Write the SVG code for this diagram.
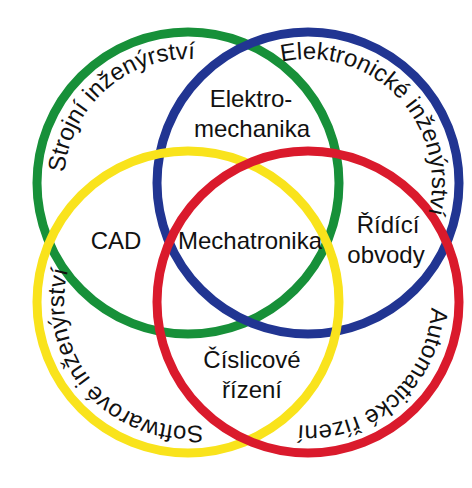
<svg xmlns="http://www.w3.org/2000/svg" width="472" height="488" viewBox="0 0 472 488">
<style>
.ring{fill:none;stroke-width:9}
.lbl{font-family:"Liberation Sans",Arial,sans-serif;font-size:24px;fill:#111;text-anchor:middle}
</style>
<defs>
<path id="pg" d="M269.36,276.58 A124,124 0 0 1 106.64,89.42 A124,124 0 0 1 269.36,276.58"/>
<path id="pb" d="M218.8,269.14 A124,124 0 0 1 397.2,96.86 A124,124 0 0 1 218.8,269.14"/>
<path id="py" d="M281.58,220.64 A124,124 0 0 1 94.42,383.36 A124,124 0 0 1 281.58,220.64"/>
<path id="pr" d="M226.11,208.89 A124,124 0 0 1 389.89,395.11 A124,124 0 0 1 226.11,208.89"/>
</defs>
<rect width="472" height="488" fill="#fff"/>
<g id="rings">
<circle id="green" class="ring" cx="188" cy="183" r="151" stroke="#179039"/>
<circle id="blue" class="ring" cx="308" cy="183" r="151" stroke="#213592"/>
<circle id="yellow" class="ring" cx="188" cy="302" r="151" stroke="#f9e31c"/>
<circle id="red" class="ring" cx="308" cy="302" r="151" stroke="#da1a2c"/>
</g>
<g id="ring-labels">
<text class="lbl"><textPath href="#pg" startOffset="50%">Strojní inženýrství</textPath></text>
<text class="lbl"><textPath href="#pb" startOffset="50%">Elektronické inženýrství</textPath></text>
<text class="lbl"><textPath href="#py" startOffset="50%">Softwarové inženýrství</textPath></text>
<text class="lbl"><textPath href="#pr" startOffset="50%">Automatické řízení</textPath></text>
</g>
<g id="elektromechanika"><text class="lbl" x="251" y="107">Elektro-</text><text class="lbl" x="252" y="137">mechanika</text></g>
<g id="cad"><text class="lbl" x="116" y="249">CAD</text></g>
<g id="mechatronika"><text class="lbl" x="250" y="249">Mechatronika</text></g>
<g id="ridici-obvody"><text class="lbl" x="388" y="233">Řídící</text><text class="lbl" x="386" y="263">obvody</text></g>
<g id="cislicove-rizeni"><text class="lbl" x="252" y="368">Číslicové</text><text class="lbl" x="252" y="398">řízení</text></g>
</svg>
